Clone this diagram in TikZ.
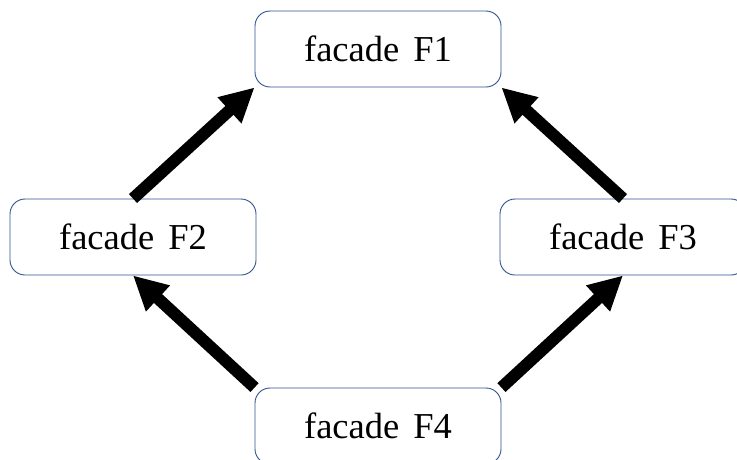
\documentclass[tikz,border=0pt]{standalone}
\usepackage{fontspec}
\setmainfont{Liberation Serif}
\usetikzlibrary{arrows.meta}
\definecolor{boxline}{HTML}{2F528F}
\tikzset{
  facadebox/.style={draw=boxline, line width=0.9pt, rounded corners=15pt, fill=white,
    minimum width=246pt, minimum height=76pt, inner sep=0pt,
    font=\fontsize{36.5}{44}\selectfont, text=black},
  bigarrow/.style={draw=black, line width=12pt, line cap=butt,
    -{Triangle[length=34pt, width=33pt]}}
}
\newcommand{\gapsp}{\hspace{14pt}}
\begin{document}
\begin{tikzpicture}[x=1pt, y=-1pt]
\useasboundingbox (0,0) rectangle (737,459);
\clip (0,0) rectangle (737,459);
\node[facadebox] (f1) at (378,49) {facade\gapsp F1};
\node[facadebox] (f2) at (133,237) {facade\gapsp F2};
\node[facadebox] (f3) at (623,237) {facade\gapsp F3};
\node[facadebox] (f4) at (378,426) {facade\gapsp F4};
\draw[bigarrow] (f2.north) -- (f1.south west);
\draw[bigarrow] (f3.north) -- (f1.south east);
\draw[bigarrow] (f4.north west) -- (f2.south);
\draw[bigarrow] (f4.north east) -- (f3.south);
\end{tikzpicture}
\end{document}
